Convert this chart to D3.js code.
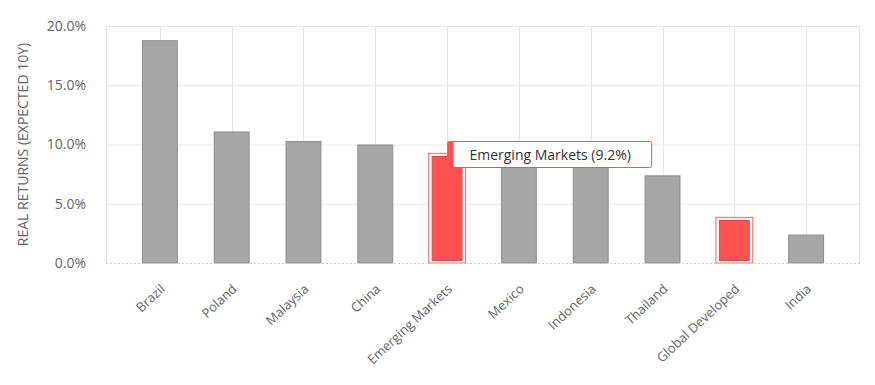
<!DOCTYPE html>
<html lang="en">
<head>
  <meta charset="UTF-8">
  <title>Real returns</title>
  <style>
    body { margin: 0; background: #fff; }
    text { font-family: "Open Sans", Lato, sans-serif; }
  </style>
</head>
<body>
  <svg id="svg" width="875" height="385"></svg>

  <script src="https://d3js.org/d3.v7.min.js"></script>
  <script>
    // values
    const categories = ['Brazil', 'Poland', 'Malaysia', 'China', 'Emerging Markets',
      'Mexico', 'Indonesia', 'Thailand', 'Global Developed', 'India']
    const returns = [18.8, 11.1, 10.3, 10.0, 9.2, 8.5, 8.3, 7.4, 3.8, 2.4]
    const highlighted = ['Emerging Markets', 'Global Developed']
    const yTicks = [0, 5, 10, 15, 20]
    const tooltipFor = 'Emerging Markets'

    const data = categories.map((c, i) => ({ name: c, value: returns[i] }))

    const plotLeft = 106, plotRight = 860, plotTop = 26, plotBottom = 263

    const svg = d3.select('#svg')

    const xScale = d3.scaleBand()
      .domain(categories)
      .range([plotLeft, plotRight])
      .paddingInner(0.5)
      .paddingOuter(0.5)

    const yScale = d3.scaleLinear()
      .domain([0, 20])
      .range([plotBottom, plotTop])

    const isHi = d => highlighted.includes(d.name)

    // horizontal grid
    svg.append('g')
      .selectAll('line')
      .data(yTicks.filter(d => d > 0))
      .enter()
      .append('line')
      .attr('x1', plotLeft).attr('x2', plotRight)
      .attr('y1', d => yScale(d) + 0.5).attr('y2', d => yScale(d) + 0.5)
      .attr('stroke', '#e6e6e6')

    // vertical grid at bar centres
    svg.append('g')
      .selectAll('line')
      .data(categories)
      .enter()
      .append('line')
      .attr('x1', d => Math.round(xScale(d) + xScale.bandwidth() / 2) + 0.5)
      .attr('x2', d => Math.round(xScale(d) + xScale.bandwidth() / 2) + 0.5)
      .attr('y1', plotTop).attr('y2', plotBottom)
      .attr('stroke', '#e6e6e6')

    // plot frame sides
    svg.append('line')
      .attr('x1', plotLeft + 0.5).attr('x2', plotLeft + 0.5)
      .attr('y1', plotTop).attr('y2', plotBottom)
      .attr('stroke', '#e0e0e0')
    svg.append('line')
      .attr('x1', plotRight - 0.5).attr('x2', plotRight - 0.5)
      .attr('y1', plotTop).attr('y2', plotBottom)
      .attr('stroke', '#e0e0e0')

    // y tick labels
    svg.append('g')
      .selectAll('text')
      .data(yTicks)
      .enter()
      .append('text')
      .attr('x', 86)
      .attr('y', d => yScale(d))
      .attr('dy', '0.35em')
      .attr('text-anchor', 'end')
      .attr('font-size', 14)
      .attr('fill', '#666')
      .text(d => d.toFixed(1) + '%')

    // y axis title
    svg.append('text')
      .attr('transform', `translate(28, ${(plotTop + plotBottom) / 2}) rotate(-90)`)
      .attr('text-anchor', 'middle')
      .attr('font-size', 14)
      .attr('fill', '#666')
      .text('REAL RETURNS (EXPECTED 10Y)')

    // highlight outlines
    svg.append('g')
      .selectAll('rect')
      .data(data.filter(isHi))
      .enter()
      .append('rect')
      .attr('x', d => xScale(d.name) - 0.5)
      .attr('y', d => yScale(d.value) - 0.5)
      .attr('width', xScale.bandwidth() + 1)
      .attr('height', d => plotBottom - yScale(d.value) + 0.5)
      .attr('fill', '#fff')
      .attr('stroke', '#f07a7a')
      .attr('stroke-width', 1.2)

    // bars
    svg.append('g')
      .selectAll('rect')
      .data(data)
      .enter()
      .append('rect')
      .attr('x', d => xScale(d.name) + (isHi(d) ? 3 : 0.5))
      .attr('y', d => yScale(d.value) + (isHi(d) ? 2.5 : 0.5))
      .attr('width', d => xScale.bandwidth() - (isHi(d) ? 6 : 1))
      .attr('height', d => plotBottom - yScale(d.value) - (isHi(d) ? 5 : 0.5))
      .attr('fill', d => isHi(d) ? '#ff5252' : '#a6a6a6')
      .attr('stroke', d => isHi(d) ? '#e04a4a' : '#8e8e8e')
      .attr('stroke-width', 1)

    // dotted baseline
    svg.append('line')
      .attr('x1', plotLeft).attr('x2', plotRight)
      .attr('y1', plotBottom + 0.5).attr('y2', plotBottom + 0.5)
      .attr('stroke', '#cfcfcf')
      .attr('stroke-dasharray', '2,2')

    // x labels
    svg.append('g')
      .selectAll('text')
      .data(categories)
      .enter()
      .append('text')
      .attr('transform', d => `translate(${xScale(d) + xScale.bandwidth() / 2 + 6}, 290) rotate(-43)`)
      .attr('text-anchor', 'end')
      .attr('font-size', 13)
      .attr('fill', '#666')
      .text(d => d)

    // tooltip
    const tip = data.find(d => d.name === tooltipFor)
    const tx = xScale(tip.name) + 18, ty = 141
    const tg = svg.append('g').attr('transform', `translate(${tx}, ${ty})`)
    tg.append('rect')
      .attr('x', 0.5).attr('y', 0.5)
      .attr('width', 204).attr('height', 26)
      .attr('rx', 2)
      .attr('fill', '#fff')
      .attr('stroke', '#e85454')
    tg.append('rect')
      .attr('x', 0.5).attr('y', 0.5)
      .attr('width', 6).attr('height', 26)
      .attr('fill', '#ff5252')
    tg.append('text')
      .attr('x', 103).attr('y', 14)
      .attr('dy', '0.35em')
      .attr('text-anchor', 'middle')
      .attr('font-family', 'Lato, sans-serif')
      .attr('font-size', 14)
      .attr('fill', '#333')
      .text(`${tip.name} (${tip.value.toFixed(1)}%)`)
  </script>
</body>
</html>
